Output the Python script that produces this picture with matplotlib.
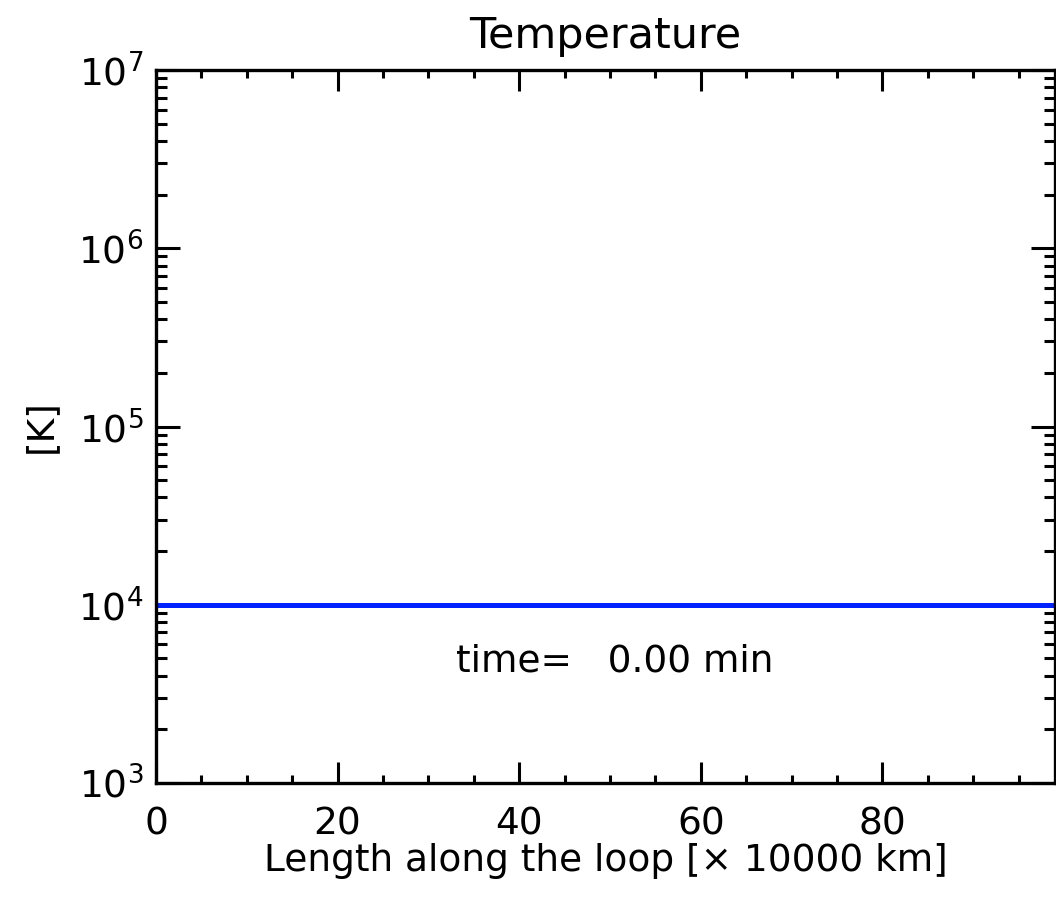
import matplotlib
matplotlib.use("Agg")
import matplotlib.pyplot as plt
from matplotlib.ticker import LogLocator, MultipleLocator, NullFormatter

# data
loop_length = [0.0, 99.0]          # x 10000 km
temperature = [1.0e4, 1.0e4]       # K
x_ticks = [0, 20, 40, 60, 80]
y_ticks = [1e3, 1e4, 1e5, 1e6, 1e7]
time_min = 0.00

plt.rcParams['font.family'] = ['DejaVu Sans']
fig = plt.figure(figsize=(10.56, 8.99), dpi=100)
ax = fig.add_axes([156/1056, 1-783/899, (1055-156)/1056, (783-70)/899])

ax.plot(loop_length, temperature, color='#0022ff', lw=3.6, solid_capstyle='butt')
ax.set_yscale('log')
ax.set_xlim(0, 99)
ax.set_ylim(1e3, 1e7)
ax.set_xticks(x_ticks)
ax.xaxis.set_minor_locator(MultipleLocator(5))
ax.set_yticks(y_ticks)
ax.yaxis.set_minor_locator(LogLocator(base=10, subs=range(2, 10)))
ax.yaxis.set_minor_formatter(NullFormatter())

fs = 27
ax.tick_params(which='both', direction='in', top=True, right=True, width=2.2,
               labelsize=fs)
ax.tick_params(axis='x', which='major', length=15, pad=17)
ax.tick_params(axis='y', which='major', length=17, pad=9)
ax.tick_params(axis='x', which='minor', length=6)
ax.tick_params(axis='y', which='minor', length=8)
for s in ax.spines.values():
    s.set_linewidth(2.4)

ax.set_title('Temperature', fontsize=31, pad=16)
ax.set_xlabel('Length along the loop [× 10000 km]', fontsize=fs, labelpad=0)
ax.set_ylabel('[K]', fontsize=fs, labelpad=14)
ax.text(0.51, 0.17, f'time=   {time_min:.2f} min', transform=ax.transAxes,
        ha='center', va='center', fontsize=fs)

fig.savefig('out.png', dpi=100)
